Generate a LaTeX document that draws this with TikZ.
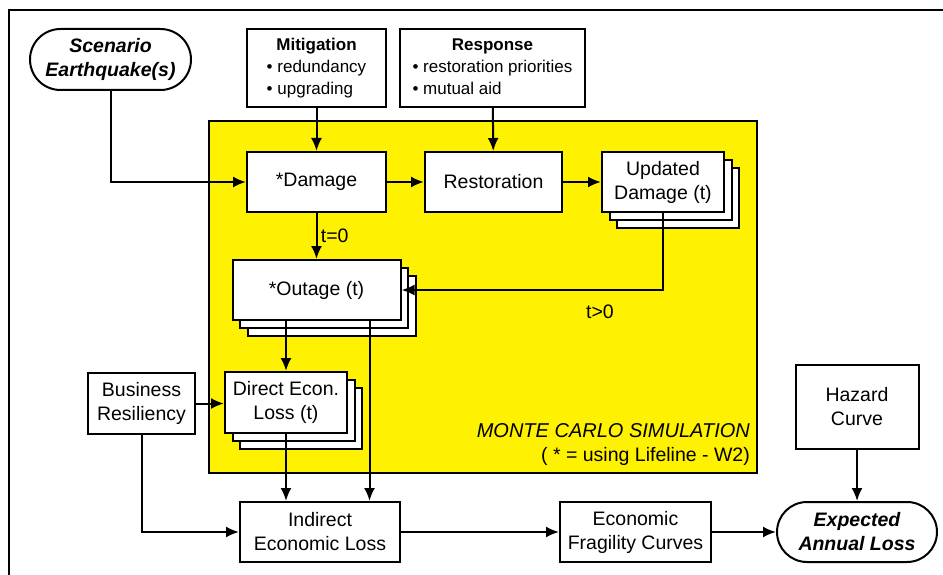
\documentclass[tikz,border=0pt]{standalone}
\usepackage{fontspec}
\setmainfont{Liberation Sans}
\usetikzlibrary{arrows.meta,calc,positioning,shapes.misc,shadows}
\tikzset{
        block/.style = {draw, fill=white, rectangle, line width=2pt,
            align=center, inner sep=2pt,
            minimum height=60pt},
        stackbox/.style = {block, double copy shadow={shadow xshift=7.5pt,
            shadow yshift=-8pt, draw=black, fill=white, line width=2pt}},
        event/.style = {draw, fill=white, rounded rectangle, line width=2pt,
            align=center, inner sep=2pt, minimum height=61pt,
            font=\fontsize{19.5}{24}\selectfont\bfseries\itshape},
        listbox/.style = {block, minimum height=78pt,
            font=\fontsize{17}{22}\selectfont},
        arrow/.style = {draw, line width=2pt, -{Latex[length=13pt,width=11pt]}},
        mcbox/.style = {draw, fill=yellow, line width=2pt},
    }

\begin{document}
\begin{tikzpicture}[x=1pt, y=-1pt, font=\fontsize{19.5}{24}\selectfont]
    \useasboundingbox (0,0) rectangle (943,575);
    \draw[line width=1.4pt] (943,10) -- (9,10) -- (9,575);
    \draw[mcbox] (209,121) rectangle (757,473);

    % inputs
    \node[event, minimum width=165pt] (eq) at (110.5,59.5) {Scenario\\Earthquake(s)};
    \node[listbox, minimum width=139pt] (mit) at (316.5,68)
        {\begin{tabular}{@{}l@{}}\multicolumn{1}{@{}c@{}}{\textbf{Mitigation}}\\
         \textbullet\ redundancy\\ \textbullet\ upgrading\end{tabular}};
    \node[listbox, minimum width=185pt] (resp) at (492.5,68)
        {\begin{tabular}{@{}l@{}}\multicolumn{1}{@{}c@{}}{\textbf{Response}}\\
         \textbullet\ restoration priorities\\ \textbullet\ mutual aid\end{tabular}};

    % simulation loop
    \node[block, minimum width=139pt] (dmg) at (316.5,182) {*Damage};
    \node[block, minimum width=137pt, right=37pt of dmg] (rest) {Restoration};
    \node[stackbox, minimum width=122pt, right=38pt of rest] (upd) {Updated\\Damage (t)};
    \node[stackbox, minimum width=168pt, below=46pt of dmg] (out) {*Outage (t)};
    \node[stackbox, minimum width=122pt, minimum height=61pt] (dir) at (286,402.5)
        {Direct Econ.\\Loss (t)};
    \node (tpos) at (600,312) {t>0};
    \node[anchor=north east, align=right, inner sep=2pt] (mc) at (752,421)
        {{\fontsize{20}{25}\selectfont\itshape MONTE CARLO SIMULATION}\\( * = using Lifeline - W2)};

    % outside the loop
    \node[block, minimum width=107pt, minimum height=61pt] (biz) at (141.5,403.5) {Business\\Resiliency};
    \node[block, minimum width=123pt, minimum height=84pt] (haz) at (857,407) {Hazard\\Curve};
    \node[block, minimum width=160pt] (ind) at (320,532) {Indirect\\Economic Loss};
    \node[block, minimum width=151pt] (frag) at (635.5,532) {Economic\\Fragility Curves};
    \node[event, minimum width=164pt, minimum height=60pt] (eal) at (857,532) {Expected\\Annual Loss};

    \draw[arrow] (eq.south) |- (dmg.west);
    \draw[arrow] (mit) -- (dmg);
    \draw[arrow] (resp) -- (rest);
    \draw[arrow] (dmg) -- (rest);
    \draw[arrow] (rest) -- (upd);
    \draw[arrow] (dmg) -- node[midway, right] {t=0} (out);
    \draw[arrow] (upd.south) |- (out.east);
    \draw[arrow] (dir.north |- out.south) -- (dir.north);
    \draw[arrow] ([xshift=53pt]out.south) -- ([xshift=53pt]out.south |- ind.north);
    \draw[arrow] (dir.south) -- (dir.south |- ind.north);
    \draw[arrow] (biz.east) -- (biz.east -| dir.west);
    \draw[arrow] (biz.south) |- (ind.west);
    \draw[arrow] (ind) -- (frag);
    \draw[arrow] (frag) -- (eal);
    \draw[arrow] (haz) -- (eal);
\end{tikzpicture}
\end{document}
